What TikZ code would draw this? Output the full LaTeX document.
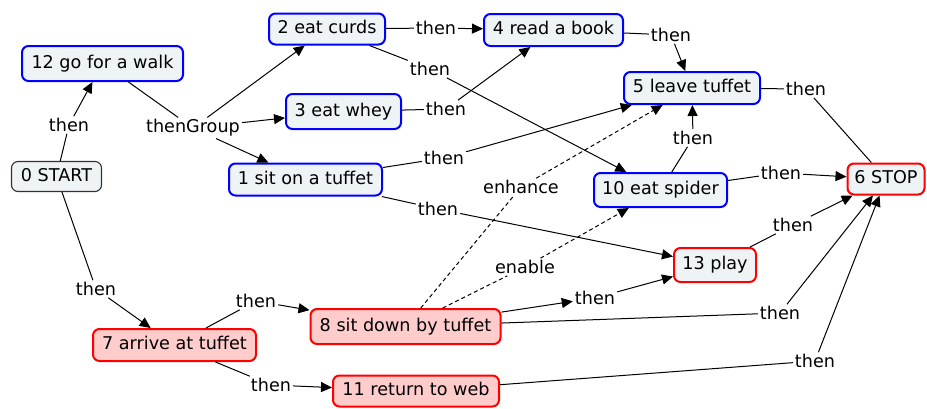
\documentclass[tikz,border=0pt]{standalone}
\usepackage{fontspec}
\setmainfont{DejaVu Sans}
\usetikzlibrary{arrows.meta}
\definecolor{cfill}{HTML}{EEF3F6}
\definecolor{cpink}{HTML}{FFCCCC}
\definecolor{cblue}{HTML}{0000FF}
\definecolor{cred}{HTML}{FF0000}
\definecolor{cgray}{HTML}{333333}
\begin{document}
\begin{tikzpicture}[x=1pt,y=-1pt,
  concept/.style={rounded corners=6.5pt, line width=2pt, inner sep=0pt,
    font=\fontsize{17.6}{21}\selectfont, text height=13.2pt, text depth=3.5pt},
  bluebox/.style={concept, draw=cblue, fill=cfill},
  redbox/.style={concept, draw=cred, fill=cfill},
  pinkbox/.style={concept, draw=cred, fill=cpink},
  startbox/.style={concept, line width=1.1pt, draw=cgray, fill=cfill},
  lbl/.style={inner sep=2pt, font=\fontsize{17.6}{21}\selectfont, text height=13.2pt, text depth=0pt},
  conn/.style={line width=1pt, draw=black},
  arr/.style={conn, -{Triangle[length=11pt,width=10pt]}},
  dconn/.style={conn, dash pattern=on 4pt off 3pt},
  darr/.style={dconn, -{Triangle[length=11pt,width=10pt]}}]
\useasboundingbox (0,0) rectangle (927,408);

% concepts
\node[bluebox, minimum width=161pt, minimum height=35pt] (n12) at (102.5,63.5) {12 go for a walk};
\node[startbox, minimum width=90pt, minimum height=30pt] (n0) at (56.5,176.5) {0 START};
\node[bluebox, minimum width=116pt, minimum height=31pt] (n2) at (327,29) {2 eat curds};
\node[bluebox, minimum width=115pt, minimum height=35pt] (n3) at (343.5,111.5) {3 eat whey};
\node[bluebox, minimum width=153pt, minimum height=32pt] (n1) at (305.5,179.5) {1 sit on a tuffet};
\node[bluebox, minimum width=139pt, minimum height=32pt] (n4) at (553.5,30) {4 read a book};
\node[bluebox, minimum width=136pt, minimum height=32pt] (n5) at (692,88) {5 leave tuffet};
\node[bluebox, minimum width=133pt, minimum height=34pt] (n10) at (660.5,190) {10 eat spider};
\node[redbox, minimum width=77pt, minimum height=31pt] (n6) at (886,179) {6 STOP};
\node[redbox, minimum width=82pt, minimum height=34pt] (n13) at (715,265) {13 play};
\node[pinkbox, minimum width=163pt, minimum height=32pt] (n7) at (174.5,345) {7 arrive at tuffet};
\node[pinkbox, minimum width=190pt, minimum height=35pt] (n8) at (405.5,326.5) {8 sit down by tuffet};
\node[pinkbox, minimum width=166pt, minimum height=31pt] (n11) at (416,391) {11 return to web};

% linking phrases
\node[lbl] (l0to12) at (69,125) {then};
\node[lbl, text depth=3.5pt] (lg) at (193,128) {thenGroup};
\node[lbl] (l2to4) at (436,28) {then};
\node[lbl] (l2to10) at (430,69) {then};
\node[lbl] (l3to4) at (446,109) {then};
\node[lbl] (l1to5) at (444,158) {then};
\node[lbl] (lenh) at (521,187) {enhance};
\node[lbl] (l4to5) at (671,35) {then};
\node[lbl] (l5to6) at (806,89) {then};
\node[lbl] (l10to5) at (693,138) {then};
\node[lbl] (l10to6) at (781,173) {then};
\node[lbl] (l0to7) at (96,289) {then};
\node[lbl] (l7to8) at (256,301) {then};
\node[lbl] (l7to11) at (271,385) {then};
\node[lbl] (l1to13) at (438,209) {then};
\node[lbl] (lena) at (525,267) {enable};
\node[lbl] (l8to13) at (595,298) {then};
\node[lbl] (l13to6) at (793,225) {then};
\node[lbl] (l8to6) at (780,313) {then};
\node[lbl] (l11to6) at (815,361) {then};

% connectors
\draw[conn] (n0) -- (l0to12); \draw[arr] (l0to12) -- (n12);
\draw[conn] (n12) -- (lg);
\draw[arr] (lg) -- (n2); \draw[arr] (lg) -- (n3); \draw[arr] (lg) -- (n1);
\draw[conn] (n2) -- (l2to4); \draw[arr] (l2to4) -- (n4);
\draw[conn] (n2) -- (l2to10); \draw[arr] (l2to10) -- (n10);
\draw[conn] (n3) -- (l3to4); \draw[arr] (l3to4) -- (n4);
\draw[conn] (n4) -- (l4to5); \draw[arr] (l4to5) -- (n5);
\draw[conn] (n5) -- (l5to6); \draw[conn] (l5to6) -- (n6);
\draw[conn] (n1) -- (l1to5); \draw[arr] (l1to5) -- (n5);
\draw[conn] (n10) -- (l10to5); \draw[arr] (l10to5) -- (n5);
\draw[conn] (n10) -- (l10to6); \draw[arr] (l10to6) -- (n6);
\draw[conn] (n1) -- (l1to13); \draw[arr] (l1to13) -- (n13);
\draw[dconn] (n8) -- (lenh); \draw[darr] (lenh) -- (n5);
\draw[dconn] (n8) -- (lena); \draw[darr] (lena) -- (n10);
\draw[conn] (n0) -- (l0to7); \draw[arr] (l0to7) -- (n7);
\draw[conn] (n7) -- (l7to8); \draw[arr] (l7to8) -- (n8);
\draw[conn] (n7) -- (l7to11); \draw[arr] (l7to11) -- (n11);
\draw[arr] (n8) -- (l8to13); \draw[arr] (l8to13) -- (n13);
\draw[conn] (n8) -- (l8to6); \draw[arr] (l8to6) -- (n6);
\draw[conn] (n13) -- (l13to6); \draw[arr] (l13to6) -- (n6);
\draw[conn] (n11) -- (l11to6); \draw[arr] (l11to6) -- (n6);
\end{tikzpicture}
\end{document}
